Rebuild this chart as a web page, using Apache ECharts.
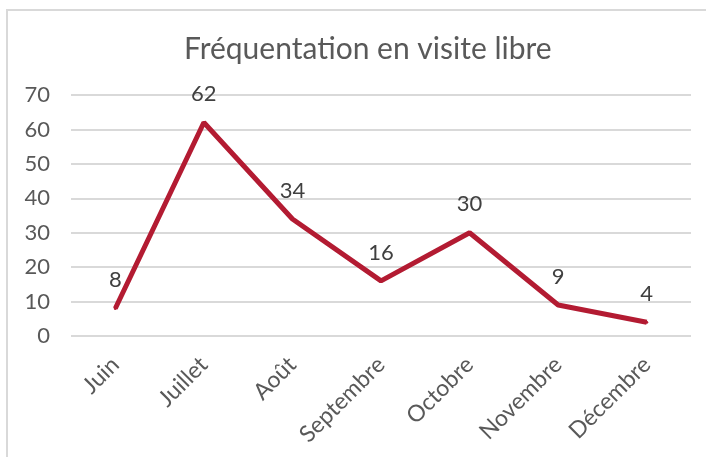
<!DOCTYPE html>
<html>
<head>
<meta charset="utf-8">
<script src="https://cdn.jsdelivr.net/npm/echarts@6/dist/echarts.min.js"></script>
<style>
    html, body { margin: 0; padding: 0; background: #fff; }
    #chart { position: absolute; left: 0; top: 0; width: 706px; height: 457px; }
    .frame {
        position: absolute; left: 6px; top: 9px; width: 720px; height: 470px;
        border-left: 2px solid #d9d9d9; border-top: 2px solid #d9d9d9;
        pointer-events: none;
    }
</style>
</head>
<body>
<div id="chart"></div>
<div class="frame"></div>
<script>
var months = ['Juin', 'Juillet', 'Août', 'Septembre', 'Octobre', 'Novembre', 'Décembre'];
var visits = [8, 62, 34, 16, 30, 9, 4];
var yTicks = { min: 0, max: 70, interval: 10 };

var myChart = echarts.init(document.getElementById('chart'));
var option = {
    animation: false,
    textStyle: { fontFamily: 'Lato' },
    title: {
        text: 'Fréquentation en visite libre',
        left: 179,
        top: 29,
        textStyle: { fontFamily: 'Lato', fontSize: 30, fontWeight: 'normal', color: '#595959' }
    },
    grid: { left: 71, right: 15, top: 95, bottom: 121 },
    xAxis: {
        type: 'category',
        data: months,
        boundaryGap: true,
        axisLine: { show: false },
        axisTick: { show: false },
        axisLabel: { rotate: 45, margin: 25, fontSize: 23, color: '#595959', fontFamily: 'Lato', interval: 0 }
    },
    yAxis: {
        type: 'value',
        min: yTicks.min,
        max: yTicks.max,
        interval: yTicks.interval,
        axisLine: { show: false },
        axisTick: { show: false },
        axisLabel: { margin: 21, fontSize: 22, color: '#595959', fontFamily: 'Lato' },
        splitLine: { lineStyle: { color: '#d9d9d9', width: 2 } }
    },
    series: [{
        type: 'line',
        data: visits,
        symbol: 'circle',
        symbolSize: 3,
        showSymbol: true,
        itemStyle: { color: '#B31B32' },
        lineStyle: { color: '#B31B32', width: 5 },
        label: {
            show: true,
            position: 'top',
            distance: 16,
            fontSize: 22,
            color: '#404040',
            fontFamily: 'Lato'
        }
    }]
};
myChart.setOption(option);
</script>
</body>
</html>
